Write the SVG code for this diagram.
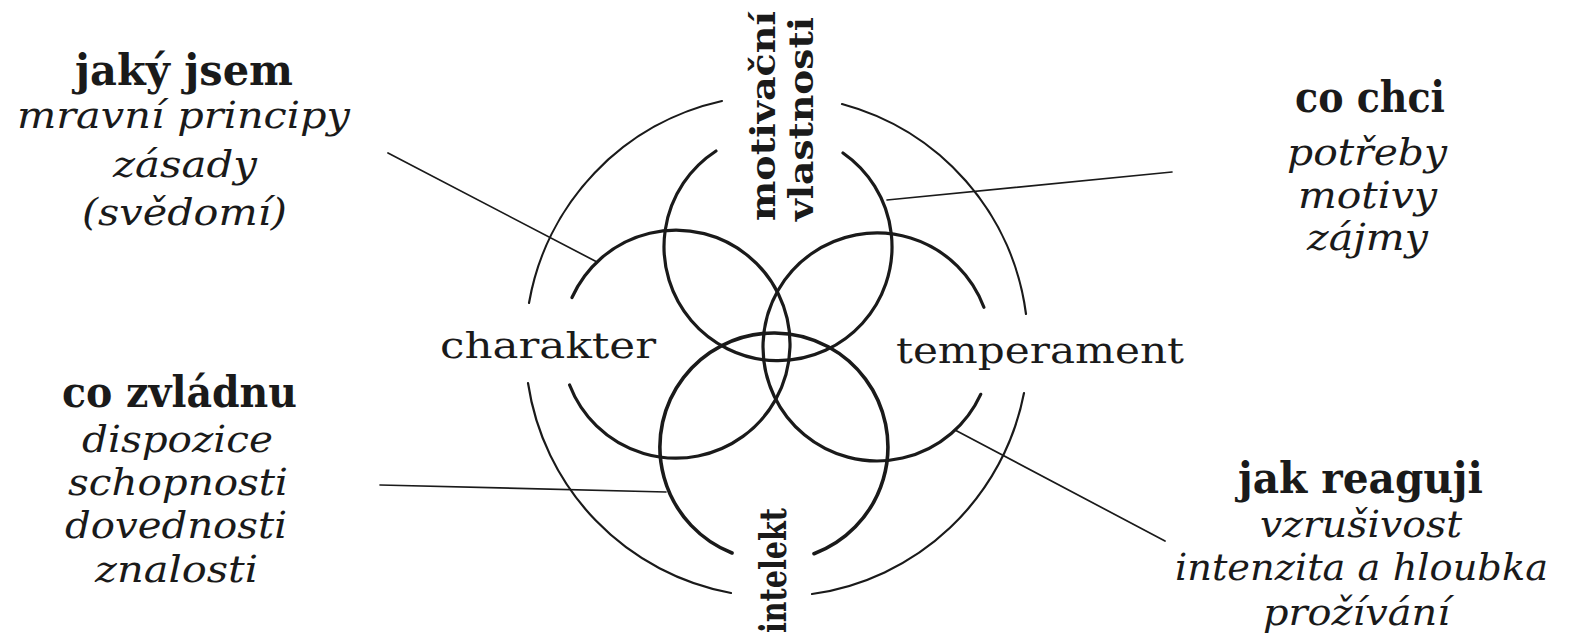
<svg xmlns="http://www.w3.org/2000/svg" width="1579" height="640" viewBox="0 0 1579 640">
<style>
.bg{fill:#ffffff}
.outer{fill:none;stroke:#1a1a1a;stroke-width:2.2;stroke-linecap:round}
.inner{fill:none;stroke:#1a1a1a;stroke-width:3.2;stroke-linecap:round}
.conn{fill:none;stroke:#1a1a1a;stroke-width:1.7;stroke-linecap:round}
text{font-family:"DejaVu Serif","Liberation Serif",serif;fill:#1a1a1a}
.hd{font-weight:bold;font-size:42px}
.it{font-style:italic;font-size:38px}
.mid{font-size:35px}
.vert{font-weight:bold;font-size:34px}
</style>
<rect class="bg" x="0" y="0" width="1579" height="640"/>
<g id="outer-ring">
<path class="outer" d="M842,104 A251,251 0 0 1 1026,314"/>
<path class="outer" d="M1024,393 A251,251 0 0 1 812,594"/>
<path class="outer" d="M731,593 A251,251 0 0 1 528,383"/>
<path class="outer" d="M529,303 A251,251 0 0 1 722,101"/>
</g>
<g id="motivacni">
<path class="inner" d="M843,153 A114,114 0 1 1 716,151"/>
<text class="vert" transform="translate(775,221) rotate(-90)" textLength="210" lengthAdjust="spacingAndGlyphs">motivační</text>
<text class="vert" transform="translate(813,221) rotate(-90)" textLength="204" lengthAdjust="spacingAndGlyphs">vlastnosti</text>
</g>
<g id="charakter">
<path class="inner" d="M572,297.5 A114,114 0 1 1 569.6,385"/>
<text class="mid" x="440" y="358" textLength="216" lengthAdjust="spacingAndGlyphs">charakter</text>
</g>
<g id="temperament">
<path class="inner" d="M980.7,394.3 A114,114 0 1 1 983.9,307.3"/>
<text class="mid" x="896" y="363" textLength="288" lengthAdjust="spacingAndGlyphs">temperament</text>
</g>
<g id="intelekt">
<path class="inner" d="M732,553 A114,114 0 1 1 814,553.7" style="stroke-width:3.6"/>
<text class="vert" transform="translate(786,633) rotate(-90)" textLength="125" lengthAdjust="spacingAndGlyphs" style="font-size:37px">intelekt</text>
</g>
<g id="jaky-jsem">
<text class="hd" x="75" y="85" textLength="218" lengthAdjust="spacingAndGlyphs">jaký jsem</text>
<text class="it" x="17" y="128" textLength="333" lengthAdjust="spacingAndGlyphs">mravní principy</text>
<text class="it" x="113" y="177" textLength="144" lengthAdjust="spacingAndGlyphs">zásady</text>
<text class="it" x="82" y="225" textLength="205" lengthAdjust="spacingAndGlyphs">(svědomí)</text>
</g>
<g id="co-chci">
<text class="hd" x="1295" y="112" textLength="150" lengthAdjust="spacingAndGlyphs">co chci</text>
<text class="it" x="1287" y="165" textLength="160" lengthAdjust="spacingAndGlyphs">potřeby</text>
<text class="it" x="1298" y="208" textLength="139" lengthAdjust="spacingAndGlyphs">motivy</text>
<text class="it" x="1307" y="250" textLength="121" lengthAdjust="spacingAndGlyphs">zájmy</text>
</g>
<g id="co-zvladnu">
<text class="hd" x="62" y="407" textLength="235" lengthAdjust="spacingAndGlyphs">co zvládnu</text>
<text class="it" x="82" y="452" textLength="191" lengthAdjust="spacingAndGlyphs">dispozice</text>
<text class="it" x="68" y="495" textLength="220" lengthAdjust="spacingAndGlyphs">schopnosti</text>
<text class="it" x="65" y="538" textLength="222" lengthAdjust="spacingAndGlyphs">dovednosti</text>
<text class="it" x="95" y="582" textLength="163" lengthAdjust="spacingAndGlyphs">znalosti</text>
</g>
<g id="jak-reaguji">
<text class="hd" x="1238" y="493" textLength="245" lengthAdjust="spacingAndGlyphs">jak reaguji</text>
<text class="it" x="1260" y="537" textLength="202" lengthAdjust="spacingAndGlyphs">vzrušivost</text>
<text class="it" x="1175" y="580" textLength="373" lengthAdjust="spacingAndGlyphs">intenzita a hloubka</text>
<text class="it" x="1263" y="625" textLength="187" lengthAdjust="spacingAndGlyphs">prožívání</text>
</g>
<g id="connectors">
<line class="conn" x1="388" y1="153" x2="597" y2="262"/>
<line class="conn" x1="1172" y1="172" x2="887" y2="200"/>
<line class="conn" x1="380" y1="485" x2="666" y2="492"/>
<line class="conn" x1="955" y1="430" x2="1165" y2="541"/>
</g>
</svg>
